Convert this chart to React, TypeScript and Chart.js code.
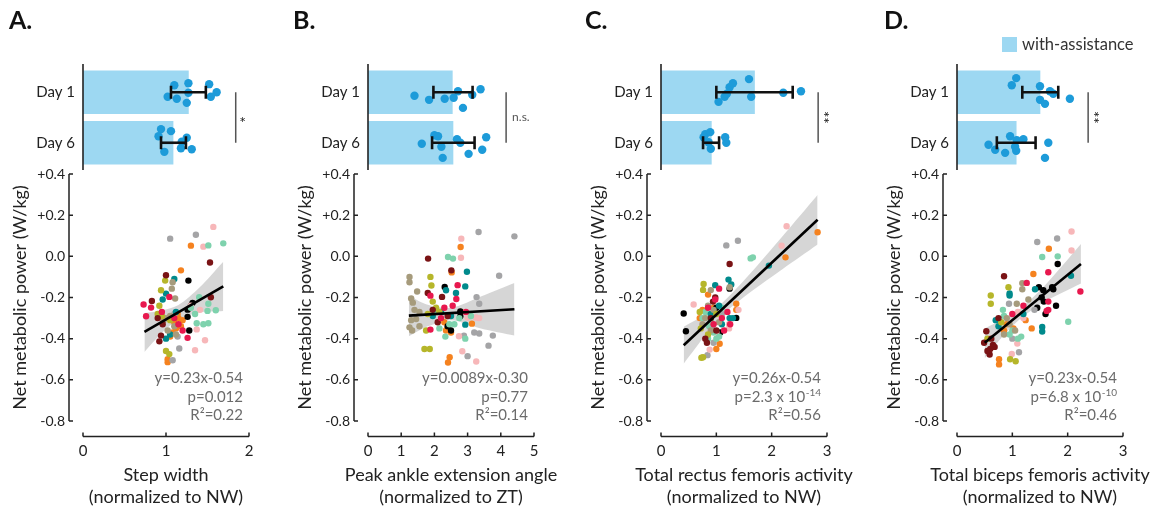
import React, { useEffect, useRef } from 'react';
import { Chart, registerables } from 'chart.js';

Chart.register(...registerables);

type P = [number, number];

// ---------------- text / categories ----------------
const PANEL_LETTERS = ['A.', 'B.', 'C.', 'D.'];
const DAY_LABELS = ['Day 1', 'Day 6'];
const Y_TITLE = 'Net metabolic power (W/kg)';
const Y_TICKS = [0.4, 0.2, 0, -0.2, -0.4, -0.6, -0.8];
const X_TITLES = [
  ['Step width', '(normalized to NW)'],
  ['Peak ankle extension angle', '(normalized to ZT)'],
  ['Total rectus femoris activity', '(normalized to NW)'],
  ['Total biceps femoris activity', '(normalized to NW)'],
];
const X_MAX = [2, 5, 3, 3];
const EQUATIONS = ['y=0.23x-0.54', 'y=0.0089x-0.30', 'y=0.26x-0.54', 'y=0.23x-0.54'];
const P_MANTISSA = ['p=0.012', 'p=0.77', 'p=2.3 x 10', 'p=6.8 x 10'];
const P_EXPONENT = ['', '', '-14', '-10'];
const R2_VALUES = ['0.22', '0.14', '0.56', '0.46'];
const SIG_LABELS = ['*', 'n.s.', '**', '**'];
const LEGEND_LABEL = 'with-assistance';

// ---------------- bar panels (Day 1, Day 6) ----------------
const BAR_MEAN_A = [1.27, 1.085];
const BAR_MEAN_B = [2.54, 2.56];
const BAR_MEAN_C = [1.69, 0.91];
const BAR_MEAN_D = [1.5, 1.07];
const ERR_LO_A = [1.06, 0.94];
const ERR_HI_A = [1.48, 1.24];
const ERR_LO_B = [1.97, 1.93];
const ERR_HI_B = [3.15, 3.21];
const ERR_LO_C = [1.0, 0.76];
const ERR_HI_C = [2.38, 1.05];
const ERR_LO_D = [1.18, 0.72];
const ERR_HI_D = [1.83, 1.42];
const SIG_X = [1.84, 4.16, 2.84, 2.37];

const DOTS_A: P[] = [
  [1.1, -0.14], [1.27, -0.18], [1.52, -0.16], [1.61, 0], [1.02, 0.09], [1.13, 0.13], [1.27, 0.01], [1.25, 0.21], [1.54, 0.09],
  [0.94, 0.73], [1.06, 0.77], [0.91, 0.87], [1.25, 0.9], [0.98, 1.18], [1.18, 1.11], [1.31, 1.13], [1.19, 0.98],
];
const DOTS_B: P[] = [
  [1.4, 0.07], [1.84, 0.15], [2.31, 0.13], [2.58, 0.11], [2.71, -0.02], [2.86, 0.31], [3.39, -0.06], [3.14, 0.05],
  [2.0, 0.85], [2.11, 0.87], [1.62, 1.02], [2.21, 1.08], [2.25, 1.3], [2.68, 0.93], [2.78, 1.0], [3.03, 1.22], [3.44, 1.14], [3.56, 0.89],
];
const DOTS_C: P[] = [
  [1.04, 0.19], [1.15, 0.09], [1.19, 0.03], [1.24, -0.1], [1.3, -0.18], [1.59, -0.26], [1.63, 0.09], [2.21, 0.01], [2.53, -0.02],
  [0.8, 0.83], [0.89, 0.79], [0.77, 0.89], [0.86, 0.99], [0.9, 1.12], [1.16, 0.89], [1.18, 1.0],
];
const DOTS_D: P[] = [
  [1.07, -0.28], [0.99, -0.14], [1.5, -0.12], [1.68, -0.02], [1.74, 0.03], [1.5, 0.15], [1.59, 0.23], [2.04, 0.13],
  [0.57, 1.04], [0.69, 1.14], [0.96, 0.87], [1.08, 0.95], [1.2, 0.93], [1.05, 1.08], [1.07, 1.16], [0.87, 1.2], [1.65, 1.0], [1.59, 1.3],
];

// ---------------- scatter points (x, net metabolic power) ----------------
const A_CRIMSON: P[] = [[0.73, -0.234], [0.82, -0.249], [0.76, -0.291], [1.04, -0.197], [1.2, -0.36], [1.26, -0.396], [0.95, -0.27], [1.1, -0.3], [1.15, -0.33]];
const A_MAROON: P[] = [[1.0, -0.092], [0.83, -0.217], [1.53, -0.03], [1.54, -0.199], [0.92, -0.413], [0.94, -0.385], [0.9, -0.3], [0.96, -0.33]];
const A_OLIVE: P[] = [[0.99, -0.118], [0.94, -0.165], [1.0, -0.46], [1.04, -0.475], [0.9, -0.28], [0.95, -0.29], [1.05, -0.31], [0.92, -0.24]];
const A_KHAKI: P[] = [[1.08, -0.126], [1.07, -0.157], [1.11, -0.205], [1.05, -0.29], [1.0, -0.3], [1.1, -0.34], [1.02, -0.36], [1.12, -0.38], [0.97, -0.31]];
const A_TEAL: P[] = [[1.1, -0.11], [1.0, -0.181], [0.96, -0.21], [1.08, -0.3], [1.05, -0.38], [1.0, -0.4], [1.12, -0.27]];
const A_MINT: P[] = [[1.51, 0.053], [1.69, 0.063], [1.4, -0.199], [1.51, -0.23], [1.6, -0.262], [1.5, -0.265], [1.37, -0.325], [1.45, -0.33], [1.51, -0.325], [1.3, -0.25], [1.35, -0.28]];
const A_PINK: P[] = [[1.57, 0.143], [1.45, 0.047], [1.41, -0.26], [1.37, -0.355], [1.47, -0.408], [1.35, -0.456], [1.3, -0.24]];
const A_GRAY: P[] = [[1.05, 0.086], [1.36, 0.105], [1.16, -0.448], [1.14, -0.39], [1.08, -0.505], [1.1, -0.28]];
const A_BLACK: P[] = [[1.27, -0.118], [1.32, -0.226], [1.26, -0.259], [1.26, -0.294], [1.28, -0.36], [1.3, -0.24]];
const A_ORANGE: P[] = [[1.3, 0.052], [1.18, -0.068], [1.02, -0.514], [1.02, -0.5], [1.1, -0.32], [1.15, -0.3], [1.2, -0.31], [1.12, -0.35], [1.08, -0.37], [1.05, -0.39], [1.18, -0.34], [1.14, -0.28]];

const B_CRIMSON: P[] = [[1.88, -0.191], [2.66, -0.207], [1.88, -0.356], [2.3, -0.25], [2.2, -0.3], [2.7, -0.14], [2.55, -0.24], [2.95, -0.27]];
const B_MAROON: P[] = [[1.81, -0.011], [2.51, -0.068], [1.8, -0.178], [2.23, -0.197], [2.1, -0.32], [2.4, -0.29], [1.95, -0.26]];
const B_OLIVE: P[] = [[1.88, -0.1], [1.91, -0.142], [1.7, -0.45], [1.86, -0.45], [1.75, -0.36], [1.95, -0.22], [2.05, -0.25], [1.8, -0.28], [2.15, -0.27]];
const B_KHAKI: P[] = [[1.25, -0.1], [1.25, -0.126], [1.48, -0.171], [1.3, -0.205], [1.35, -0.225], [1.4, -0.26], [1.55, -0.27], [1.45, -0.305], [1.3, -0.31], [1.25, -0.345], [1.33, -0.36], [1.55, -0.34]];
const B_TEAL: P[] = [[2.98, -0.075], [2.35, -0.165], [2.93, -0.146], [2.65, -0.178], [2.93, -0.332], [2.2, -0.27], [2.5, -0.29], [1.95, -0.29]];
const B_MINT: P[] = [[2.41, -0.003], [2.56, -0.011], [3.1, -0.29], [2.33, -0.39], [2.93, -0.4], [2.15, -0.35], [2.45, -0.33], [2.6, -0.33], [2.0, -0.27], [2.75, -0.3]];
const B_PINK: P[] = [[2.81, 0.086], [2.8, -0.007], [3.0, -0.297], [3.25, -0.297], [3.35, -0.3], [2.74, -0.388], [2.84, -0.461], [3.26, -0.511]];
const B_GRAY: P[] = [[3.33, 0.118], [4.41, 0.097], [3.95, -0.094], [3.27, -0.198], [3.35, -0.23], [2.89, -0.385], [3.2, -0.37], [3.35, -0.375], [3.76, -0.385], [3.63, -0.434], [3.0, -0.485]];
const B_BLACK: P[] = [[2.31, -0.149], [2.78, -0.291], [2.78, -0.268], [2.5, -0.36], [2.4, -0.34]];
const B_ORANGE: P[] = [[2.79, 0.045], [2.52, -0.078], [3.13, -0.327], [2.3, -0.32], [2.4, -0.35], [2.5, -0.37], [2.35, -0.36], [2.46, -0.49], [2.41, -0.516], [2.8, -0.27]];

const C_CRIMSON: P[] = [[1.05, -0.157], [0.98, -0.21], [1.14, -0.36], [1.25, -0.33], [1.1, -0.3], [0.85, -0.25], [0.95, -0.33], [1.2, -0.27]];
const C_MAROON: P[] = [[1.24, -0.037], [0.98, -0.2], [0.94, -0.22], [0.8, -0.4], [0.83, -0.42], [0.9, -0.3], [1.0, -0.36]];
const C_OLIVE: P[] = [[0.77, -0.134], [0.76, -0.163], [0.73, -0.493], [0.76, -0.49], [0.72, -0.35], [1.0, -0.28], [0.85, -0.38], [0.7, -0.27]];
const C_KHAKI: P[] = [[0.9, -0.164], [1.24, -0.15], [0.85, -0.24], [0.95, -0.26], [0.8, -0.3], [1.05, -0.32], [0.9, -0.36], [0.75, -0.33]];
const C_TEAL: P[] = [[0.98, -0.14], [1.22, -0.113], [1.27, -0.137], [1.95, -0.045], [1.24, -0.3], [1.3, -0.3], [1.05, -0.24], [0.9, -0.28], [1.1, -0.33]];
const C_MINT: P[] = [[1.62, -0.01], [1.66, -0.005], [0.8, -0.27], [0.9, -0.31], [0.95, -0.37], [1.0, -0.4], [0.85, -0.4], [1.05, -0.39], [0.75, -0.3], [1.1, -0.25], [0.87, -0.34]];
const C_PINK: P[] = [[2.27, 0.146], [2.18, 0.052], [0.59, -0.234], [1.23, -0.33], [1.23, -0.35], [1.4, -0.26], [0.88, -0.453], [1.0, -0.37]];
const C_GRAY: P[] = [[1.18, 0.053], [1.39, 0.076], [0.84, -0.48], [0.95, -0.42], [1.1, -0.28], [0.92, -0.35]];
const C_BLACK: P[] = [[1.24, -0.157], [0.41, -0.278], [0.45, -0.364], [1.07, -0.37], [1.36, -0.299], [1.0, -0.25]];
const C_ORANGE: P[] = [[2.83, 0.117], [2.25, -0.005], [0.85, -0.186], [1.36, -0.23], [1.36, -0.26], [1.06, -0.425], [1.0, -0.45], [0.75, -0.26], [0.95, -0.25], [0.7, -0.3]];

const D_CRIMSON: P[] = [[1.65, -0.077], [1.26, -0.129], [2.23, -0.171], [1.65, -0.22], [1.65, -0.26], [1.62, -0.265], [1.0, -0.28], [1.2, -0.24]];
const D_MAROON: P[] = [[0.85, -0.097], [0.53, -0.364], [0.49, -0.42], [0.59, -0.477], [0.6, -0.45], [0.55, -0.46], [0.65, -0.43], [0.62, -0.4], [0.75, -0.3], [0.68, -0.44]];
const D_OLIVE: P[] = [[0.93, -0.15], [0.61, -0.19], [0.61, -0.23], [0.96, -0.5], [1.06, -0.51], [0.55, -0.4], [0.8, -0.32]];
const D_KHAKI: P[] = [[1.18, -0.13], [1.18, -0.16], [1.08, -0.23], [1.29, -0.21], [0.95, -0.33], [0.85, -0.38], [1.05, -0.36], [0.9, -0.3]];
const D_TEAL: P[] = [[1.41, -0.16], [2.06, -0.094], [0.95, -0.18], [0.95, -0.19], [1.54, -0.343], [1.54, -0.365], [0.7, -0.31], [0.75, -0.34], [1.2, -0.28]];
const D_MINT: P[] = [[1.54, -0.003], [1.82, 0.0], [2.01, -0.318], [0.83, -0.26], [1.16, -0.39], [1.1, -0.4], [0.85, -0.29], [1.0, -0.36], [0.95, -0.38]];
const D_PINK: P[] = [[2.07, 0.121], [2.07, 0.028], [0.99, -0.474], [1.09, -0.424], [1.1, -0.27], [1.2, -0.3]];
const D_GRAY: P[] = [[1.45, 0.07], [1.81, 0.087], [0.94, -0.23], [1.12, -0.466], [1.0, -0.4], [1.4, -0.26]];
const D_BLACK: P[] = [[1.82, -0.037], [1.48, -0.15], [1.56, -0.165], [1.72, -0.15], [1.74, -0.16], [1.53, -0.2], [1.57, -0.22], [1.45, -0.25], [1.79, -0.24], [1.6, -0.28]];
const D_ORANGE: P[] = [[1.66, 0.037], [1.38, -0.086], [1.24, -0.31], [1.35, -0.35], [0.76, -0.5], [0.76, -0.525], [0.9, -0.33], [0.85, -0.36], [1.02, -0.35]];

// regression lines (read end points) and confidence band
const LINE_X_A = [0.74, 1.69];
const LINE_Y_A = [-0.367, -0.146];
const LINE_X_B = [1.23, 4.41];
const LINE_Y_B = [-0.288, -0.257];
const LINE_X_C = [0.41, 2.83];
const LINE_Y_C = [-0.432, 0.178];
const LINE_X_D = [0.5, 2.24];
const LINE_Y_D = [-0.42, -0.037];

const BAND_X_A = [0.74, 0.95, 1.15, 1.4, 1.69];
const BAND_LO_A = [-0.465, -0.373, -0.307, -0.273, -0.266];
const BAND_HI_A = [-0.275, -0.263, -0.237, -0.153, -0.026];
const BAND_X_B = [1.23, 1.8, 2.5, 3.4, 4.41];
const BAND_LO_B = [-0.388, -0.34, -0.31, -0.35, -0.385];
const BAND_HI_B = [-0.191, -0.235, -0.25, -0.195, -0.129];
const BAND_X_C = [0.41, 0.8, 1.1, 1.6, 2.2, 2.83];
const BAND_LO_C = [-0.522, -0.384, -0.288, -0.177, -0.061, 0.058];
const BAND_HI_C = [-0.342, -0.284, -0.228, -0.087, 0.099, 0.298];
const BAND_X_D = [0.5, 0.9, 1.2, 1.6, 2.24];
const BAND_LO_D = [-0.495, -0.367, -0.291, -0.218, -0.132];
const BAND_HI_D = [-0.35, -0.297, -0.241, -0.138, 0.06];

// ---------------- styles / layout ----------------
const SUBJECT_COLORS = ['#E8184E', '#7A1315', '#B6B62A', '#A69B7C', '#008A8C', '#7ED2AD', '#F7B7B9', '#A4A4A6', '#000000', '#F5821F'];
const BAR_COLOR = '#9DD8F2';
const DOT_COLOR = '#1D9BD9';
const BAND_COLOR = 'rgba(200,200,200,0.75)';
const TEXT = '#222222';
const W = 1166;
const H = 510;
const FONT = 'Lato, "Noto Sans", sans-serif';
const X0 = [83, 368, 661, 957];
const AXIS_LEN = 166;
const SC_TOP = 174;
const SC_BOTTOM = 421;
const BAR_TOP = 67;
const BAR_BOTTOM = 168;
const X_AXIS_Y = 436.5;
const Y_AXIS_GAP = 14;
const LETTER_X = [9, 293, 585, 884];
const X_TITLE_Y = [475, 497.5];

const BAR_MEANS = [BAR_MEAN_A, BAR_MEAN_B, BAR_MEAN_C, BAR_MEAN_D];
const ERR_LO = [ERR_LO_A, ERR_LO_B, ERR_LO_C, ERR_LO_D];
const ERR_HI = [ERR_HI_A, ERR_HI_B, ERR_HI_C, ERR_HI_D];
const DOTS = [DOTS_A, DOTS_B, DOTS_C, DOTS_D];
const GROUPS = [
  [A_CRIMSON, A_MAROON, A_OLIVE, A_KHAKI, A_TEAL, A_MINT, A_PINK, A_GRAY, A_BLACK, A_ORANGE],
  [B_CRIMSON, B_MAROON, B_OLIVE, B_KHAKI, B_TEAL, B_MINT, B_PINK, B_GRAY, B_BLACK, B_ORANGE],
  [C_CRIMSON, C_MAROON, C_OLIVE, C_KHAKI, C_TEAL, C_MINT, C_PINK, C_GRAY, C_BLACK, C_ORANGE],
  [D_CRIMSON, D_MAROON, D_OLIVE, D_KHAKI, D_TEAL, D_MINT, D_PINK, D_GRAY, D_BLACK, D_ORANGE],
];
const LINE_X = [LINE_X_A, LINE_X_B, LINE_X_C, LINE_X_D];
const LINE_Y = [LINE_Y_A, LINE_Y_B, LINE_Y_C, LINE_Y_D];
const BAND_X = [BAND_X_A, BAND_X_B, BAND_X_C, BAND_X_D];
const BAND_LO = [BAND_LO_A, BAND_LO_B, BAND_LO_C, BAND_LO_D];
const BAND_HI = [BAND_HI_A, BAND_HI_B, BAND_HI_C, BAND_HI_D];

function fmtY(v: number): string {
  if (Math.abs(v) < 1e-9) return '0.0';
  return (v > 0 ? '+' : '') + v.toFixed(1);
}

function barConfig(i: number): any {
  const x0 = X0[i];
  const yW = 80;
  const datasets: any[] = [
    {
      type: 'bar',
      data: BAR_MEANS[i].map((m, d) => ({ x: m, y: d })),
      backgroundColor: BAR_COLOR,
      borderWidth: 0,
      barThickness: 43,
      order: 4,
    },
    {
      type: 'scatter',
      data: DOTS[i].map(([x, y]) => ({ x, y })),
      backgroundColor: DOT_COLOR,
      borderWidth: 0,
      pointRadius: 4.2,
      order: 3,
    },
  ];
  for (let d = 0; d < 2; d++) {
    datasets.push({
      type: 'line',
      data: [{ x: ERR_LO[i][d], y: d }, { x: ERR_HI[i][d], y: d }],
      borderColor: '#111',
      borderWidth: 2.6,
      pointStyle: 'line',
      pointRadius: 6.5,
      pointRotation: 90,
      pointBorderWidth: 2.6,
      pointBorderColor: '#111',
      fill: false,
      order: 2,
    });
  }
  datasets.push({
    type: 'line',
    data: [{ x: SIG_X[i], y: 0 }, { x: SIG_X[i], y: 1 }],
    borderColor: '#555',
    borderWidth: 1.5,
    pointRadius: 0,
    fill: false,
    order: 1,
  });

  const deco = {
    id: 'barDeco' + i,
    afterDatasetsDraw(chart: any) {
      const ctx = chart.ctx as CanvasRenderingContext2D;
      const xs = chart.scales.x;
      ctx.save();
      // axis line
      ctx.strokeStyle = '#222';
      ctx.lineWidth = 1.6;
      ctx.beginPath();
      ctx.moveTo(x0, 64);
      ctx.lineTo(x0, 170);
      ctx.stroke();
      // significance label
      const sx = xs.getPixelForValue(SIG_X[i]);
      const ys = chart.scales.y;
      const midY = (ys.getPixelForValue(0) + ys.getPixelForValue(1)) / 2;
      ctx.fillStyle = TEXT;
      const lab = SIG_LABELS[i];
      if (lab === 'n.s.') {
        ctx.font = `12px ${FONT}`;
        ctx.fillStyle = '#555';
        ctx.textAlign = 'left';
        ctx.textBaseline = 'middle';
        ctx.fillText(lab, sx + 6, midY);
      } else if (lab === '*') {
        ctx.font = `16px ${FONT}`;
        ctx.textAlign = 'center';
        ctx.textBaseline = 'alphabetic';
        ctx.fillText(lab, sx + 7, midY + 10);
      } else {
        ctx.translate(sx + 8, midY);
        ctx.rotate(-Math.PI / 2);
        ctx.font = `15px ${FONT}`;
        ctx.textAlign = 'center';
        ctx.textBaseline = 'alphabetic';
        ctx.fillText(lab, 0, 9);
        ctx.setTransform(1, 0, 0, 1, 0, 0);
      }
      // panel letter
      ctx.font = `bold 25px ${FONT}`;
      ctx.fillStyle = '#111';
      ctx.textAlign = 'left';
      ctx.textBaseline = 'middle';
      ctx.fillText(PANEL_LETTERS[i], LETTER_X[i], 21);
      // legend (last panel)
      if (i === 3) {
        ctx.fillStyle = BAR_COLOR;
        ctx.fillRect(1002, 37, 15, 15);
        ctx.fillStyle = '#333';
        ctx.font = `16.5px ${FONT}`;
        ctx.textBaseline = 'middle';
        ctx.fillText(LEGEND_LABEL, 1022, 44.5);
      }
      ctx.restore();
    },
  };

  return {
    type: 'bar',
    data: { datasets },
    plugins: [deco],
    options: {
      responsive: false,
      animation: false,
      devicePixelRatio: 1,
      indexAxis: 'y',
      layout: { padding: { left: x0 - yW, right: W - (x0 + AXIS_LEN), top: BAR_TOP, bottom: H - BAR_BOTTOM } },
      plugins: { legend: { display: false }, tooltip: { enabled: false } },
      scales: {
        x: { type: 'linear', min: 0, max: X_MAX[i], display: false, offset: false },
        y: {
          type: 'linear',
          min: -0.5,
          max: 1.5,
          reverse: true,
          offset: false,
          afterFit: (s: any) => { s.width = yW; },
          afterBuildTicks: (s: any) => { s.ticks = DAY_LABELS.map((_, k) => ({ value: k })); },
          grid: { display: false, drawTicks: false, offset: false },
          border: { display: false },
          ticks: {
            callback: (v: any) => DAY_LABELS[Math.round(Number(v))] ?? '',
            padding: 8,
            color: TEXT,
            font: { family: FONT, size: 15 },
            autoSkip: false,
          },
        },
      },
    },
  };
}

function scatterConfig(i: number): any {
  const x0 = X0[i];
  const yW = 75;
  const datasets: any[] = [
    {
      type: 'line',
      data: BAND_X[i].map((x, k) => ({ x, y: BAND_LO[i][k] })),
      borderColor: 'rgba(0,0,0,0)',
      borderWidth: 1,
      pointRadius: 0,
      tension: 0.3,
      fill: false,
      order: 10,
    },
    {
      type: 'line',
      data: BAND_X[i].map((x, k) => ({ x, y: BAND_HI[i][k] })),
      borderColor: 'rgba(0,0,0,0)',
      borderWidth: 1,
      pointRadius: 0,
      tension: 0.3,
      fill: '-1',
      backgroundColor: BAND_COLOR,
      order: 9,
    },
  ];
  GROUPS[i].forEach((pts, c) => {
    datasets.push({
      type: 'scatter',
      data: pts.map(([x, y]) => ({ x, y })),
      backgroundColor: SUBJECT_COLORS[c],
      borderWidth: 0,
      pointRadius: 3.2,
      order: 2,
    });
  });
  datasets.push({
    type: 'line',
    data: LINE_X[i].map((x, k) => ({ x, y: LINE_Y[i][k] })),
    borderColor: '#000',
    borderWidth: 2.6,
    pointRadius: 0,
    fill: false,
    order: 1,
  });

  const deco = {
    id: 'scDeco' + i,
    afterDatasetsDraw(chart: any) {
      const ctx = chart.ctx as CanvasRenderingContext2D;
      const xs = chart.scales.x;
      const ys = chart.scales.y;
      ctx.save();
      ctx.strokeStyle = '#222';
      ctx.lineWidth = 1.5;
      // y axis bracket
      const ax = x0 - Y_AXIS_GAP;
      ctx.beginPath();
      ctx.moveTo(ax, ys.getPixelForValue(0.4));
      ctx.lineTo(ax, ys.getPixelForValue(-0.8));
      Y_TICKS.forEach((v) => {
        const py = ys.getPixelForValue(v);
        ctx.moveTo(ax, py);
        ctx.lineTo(ax + 4, py);
      });
      ctx.stroke();
      // x axis
      ctx.beginPath();
      ctx.moveTo(xs.getPixelForValue(0), X_AXIS_Y);
      ctx.lineTo(xs.getPixelForValue(X_MAX[i]), X_AXIS_Y);
      for (let t = 0; t <= X_MAX[i]; t++) {
        const px = xs.getPixelForValue(t);
        ctx.moveTo(px, X_AXIS_Y);
        ctx.lineTo(px, X_AXIS_Y - 4);
      }
      ctx.stroke();
      // x axis title (two lines, centred under the axis)
      const cx = (xs.getPixelForValue(0) + xs.getPixelForValue(X_MAX[i])) / 2;
      ctx.fillStyle = TEXT;
      ctx.textAlign = 'center';
      ctx.textBaseline = 'middle';
      ctx.font = `18px ${FONT}`;
      X_TITLES[i].forEach((t, k) => ctx.fillText(t, cx, X_TITLE_Y[k]));
      // statistics text
      const right = x0 + 160;
      ctx.fillStyle = '#6b6b6b';
      ctx.textAlign = 'right';
      ctx.textBaseline = 'middle';
      ctx.font = `15px ${FONT}`;
      ctx.fillText(EQUATIONS[i], right, 378);
      if (P_EXPONENT[i]) {
        ctx.font = `10px ${FONT}`;
        const ew = ctx.measureText(P_EXPONENT[i]).width;
        ctx.fillText(P_EXPONENT[i], right, 393);
        ctx.font = `15px ${FONT}`;
        ctx.fillText(P_MANTISSA[i], right - ew - 0.5, 397.5);
      } else {
        ctx.fillText(P_MANTISSA[i], right, 397.5);
      }
      ctx.fillText('R\u00B2=' + R2_VALUES[i], right, 415);
      ctx.restore();
    },
  };

  return {
    type: 'scatter',
    data: { datasets },
    plugins: [deco],
    options: {
      responsive: false,
      animation: false,
      devicePixelRatio: 1,
      layout: { padding: { left: x0 - yW, right: W - (x0 + AXIS_LEN), top: SC_TOP, bottom: 0 } },
      plugins: { legend: { display: false }, tooltip: { enabled: false } },
      scales: {
        x: {
          type: 'linear',
          position: 'bottom',
          min: 0,
          max: X_MAX[i],
          afterFit: (s: any) => { s.height = H - SC_BOTTOM; },
          afterBuildTicks: (s: any) => {
            const t: any[] = [];
            for (let k = 0; k <= X_MAX[i]; k++) t.push({ value: k });
            s.ticks = t;
          },
          grid: { display: false, drawTicks: false },
          border: { display: false },
          ticks: { padding: 21, color: TEXT, font: { family: FONT, size: 15 }, maxRotation: 0, autoSkip: false },
          title: { display: false },
        },
        y: {
          type: 'linear',
          min: -0.8,
          max: 0.4,
          afterFit: (s: any) => { s.width = yW; },
          afterBuildTicks: (s: any) => { s.ticks = Y_TICKS.map((v) => ({ value: v })); },
          grid: { display: false, drawTicks: false },
          border: { display: false },
          ticks: {
            padding: 18,
            color: TEXT,
            font: { family: FONT, size: 14 },
            autoSkip: false,
            callback: (v: any) => fmtY(Number(v)),
          },
          title: {
            display: true,
            text: Y_TITLE,
            color: TEXT,
            font: { family: FONT, size: 18, lineHeight: 1.2 },
            padding: { top: 1, bottom: 0 },
          },
        },
      },
    },
  };
}

export default function App() {
  const refs = useRef<(HTMLCanvasElement | null)[]>([]);
  useEffect(() => {
    Chart.defaults.font.family = FONT;
    const charts: Chart[] = [];
    for (let i = 0; i < 4; i++) {
      const cb = refs.current[2 * i];
      const cs = refs.current[2 * i + 1];
      if (cb) charts.push(new Chart(cb, barConfig(i)));
      if (cs) charts.push(new Chart(cs, scatterConfig(i)));
    }
    return () => charts.forEach((c) => c.destroy());
  }, []);
  return (
    <div style={{ position: 'absolute', left: 0, top: 0, width: W, height: H, background: '#fff', overflow: 'hidden' }}>
      {Array.from({ length: 8 }).map((_, k) => (
        <canvas
          key={k}
          ref={(el) => { refs.current[k] = el; }}
          width={W}
          height={H}
          style={{ position: 'absolute', left: 0, top: 0, width: W, height: H, pointerEvents: 'none' }}
        />
      ))}
    </div>
  );
}
